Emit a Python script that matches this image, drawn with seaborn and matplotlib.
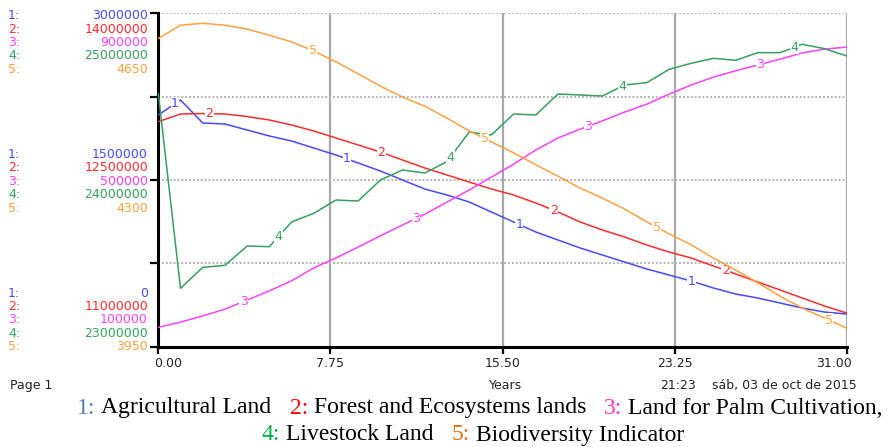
import numpy as np
import pandas as pd
import seaborn as sns
import matplotlib.pyplot as plt
from matplotlib.transforms import ScaledTranslation

sns.set_theme(style="white")
plt.rcParams['font.family'] = ['DejaVu Sans']

# Simulation output (one value per year)
years = list(range(32))
agri_land = [2085000, 2220000, 2013000, 2004000, 1950000, 1896000, 1851000, 1788000,
             1725000, 1653000, 1581000, 1500000, 1419000, 1365000, 1302000, 1212000,
             1122000, 1032000, 960000, 888000, 825000, 762000, 699000, 645000,
             591000, 528000, 474000, 438000, 393000, 348000, 312000, 294000]
forest_land = [13025000, 13094000, 13098000, 13094000, 13071000, 13040000, 12995000, 12941000,
               12878000, 12815000, 12752000, 12680000, 12608000, 12545000, 12482000, 12419000,
               12365000, 12293000, 12212000, 12122000, 12050000, 11987000, 11915000, 11852000,
               11798000, 11726000, 11654000, 11582000, 11510000, 11438000, 11366000, 11303000]
palm_land = [146500, 159000, 174000, 190000, 212000, 234000, 258000, 289000,
             313000, 339000, 366000, 392000, 418000, 447000, 476000, 507000,
             538000, 572000, 601000, 622000, 642000, 663000, 682000, 706000,
             728000, 747000, 762000, 776000, 790000, 805000, 814000, 819000]
livestock_land = [24520000, 23350000, 23476000, 23488000, 23604000, 23600000, 23748000, 23800000,
                  23880000, 23874000, 24000000, 24060000, 24042000, 24110000, 24288000, 24270000,
                  24396000, 24390000, 24516000, 24510000, 24504000, 24570000, 24584000, 24664000,
                  24700000, 24730000, 24718000, 24764000, 24764000, 24814000, 24788000, 24744000]
biodiversity = [4597, 4625, 4629, 4625, 4617, 4604, 4590, 4571, 4548, 4523, 4497, 4474,
                4455, 4430, 4403, 4380, 4357, 4332, 4308, 4283, 4262, 4239, 4212, 4187,
                4164, 4136, 4111, 4084, 4056, 4031, 4010, 3989]

series_names = ["Agricultural Land", "Forest and Ecosystems lands",
                "Land for Palm Cultivation,", "Livestock Land", "Biodiversity Indicator"]
axis_low = [0, 11000000, 100000, 23000000, 3950]
axis_high = [3000000, 14000000, 900000, 25000000, 4650]
x_ticks = [0, 7.75, 15.5, 23.25, 31]
x_tick_labels = ["0.00", "7.75", "15.50", "23.25", "31.00"]

series = [agri_land, forest_land, palm_land, livestock_land, biodiversity]
line_colors = ['#4848ff', '#ff2b2b', '#ff40ff', '#35a060', '#ffa040']
caption_colors = ['#4f81bd', '#ff0000', '#ff33cc', '#00b050', '#e36c0a']

W, H = 896, 447
fig = plt.figure(figsize=(W / 100, H / 100), dpi=100)
ax = fig.add_axes([158.3 / W, 1 - 346.7 / H, (846.7 - 158.3) / W, (346.7 - 13.3) / H])
ax.set_ylim(0, 1)
ax.set_yticks([0, 0.25, 0.5, 0.75, 1], [])
ax.set_xticks(x_ticks, x_tick_labels)

# grid: solid vertical, dotted horizontal
for x in x_ticks[1:]:
    ax.axvline(x, color='#a8a8a8', lw=1.6, zorder=0)
for y in [0.25, 0.5, 0.75, 1.0]:
    ax.axhline(y, color='#b4b4b4', lw=1.4, ls=(0, (1, 1)), zorder=0)

for loc, sp in ax.spines.items():
    if loc in ['left', 'bottom']:
        sp.set_color('black')
        sp.set_linewidth(2.2)
    else:
        sp.set_visible(False)
ax.tick_params(axis='y', direction='out', length=6, width=1.6, color='black', left=True)
ax.tick_params(axis='x', direction='out', length=4.8, width=1.6, color='black',
               bottom=True, pad=2.5, labelsize=9, labelcolor='#222222')
tl = ax.get_xticklabels()
tl[0].set_horizontalalignment('left')
tl[0].set_transform(tl[0].get_transform() + ScaledTranslation(-4 / 100, 0, fig.dpi_scale_trans))
tl[-1].set_horizontalalignment('right')
tl[-1].set_transform(tl[-1].get_transform() + ScaledTranslation(5 / 100, 0, fig.dpi_scale_trans))

# one hidden y scale per series
label_start = [0.75, 2.3, 3.85, 5.4, 6.95]
for i, vals in enumerate(series):
    tw = ax.twinx()
    df = pd.DataFrame({'Years': years, 'value': vals})
    sns.lineplot(data=df, x='Years', y='value', ax=tw, color=line_colors[i], lw=1.1)
    tw.set_ylim(axis_low[i], axis_high[i])
    tw.axis('off')
    for k in range(4):
        t = label_start[i] + 7.75 * k
        v = np.interp(t, years, vals)
        tw.text(t, v, str(i + 1), color=line_colors[i], fontsize=9, ha='center',
                va='center', bbox=dict(fc='white', ec='none', pad=0.3), zorder=5)
ax.set_xlim(0, 31)
ax.set_xlabel('')

# scale labels on the left
row = 13.4
for b, (base_y, first) in enumerate([(15.0, 0), (180.7, -2), (346.0, -4)]):
    for i in range(5):
        yb = base_y + row * (i + first) + 4.2
        if b == 0:
            v = axis_high[i]
        elif b == 1:
            v = (axis_low[i] + axis_high[i]) // 2
        else:
            v = axis_low[i]
        fig.text(8 / W, 1 - yb / H, f"{i + 1}:", color=line_colors[i], fontsize=9,
                 ha='left', va='baseline')
        fig.text(148 / W, 1 - yb / H, str(v), color=line_colors[i], fontsize=9,
                 ha='right', va='baseline')

fig.text(10 / W, 1 - 389 / H, "Page 1", fontsize=9, color='#222222', va='baseline')
fig.text(506 / W, 1 - 389 / H, "Years", fontsize=9, color='#222222', ha='center', va='baseline')
fig.text(660 / W, 1 - 389 / H, "21:23", fontsize=9, color='#222222', va='baseline')
fig.text(712 / W, 1 - 389 / H, "sáb, 03 de oct de 2015", fontsize=9, color='#222222', va='baseline')

# caption lines with coloured numbers
renderer = fig.canvas.get_renderer()


def caption_line(idx, baseline_y, center_x):
    pieces = []
    for n, i in enumerate(idx):
        pieces.append((f"{i + 1}:", caption_colors[i], 6))
        pieces.append((series_names[i], 'black', 18 if n < len(idx) - 1 else 0))
    texts = []
    total = 0
    for s, c, gap in pieces:
        t = fig.text(0, 1 - baseline_y / H, s, color=c, fontsize=17,
                     family='Liberation Serif', va='baseline', ha='left')
        w = t.get_window_extent(renderer=renderer).width
        texts.append((t, w, gap))
        total += w + gap
    x = center_x - total / 2
    for t, w, gap in texts:
        t.set_x(x / W)
        x += w + gap


caption_line([0, 1, 2], 413.5, 480)
caption_line([3, 4], 440.5, 473)

fig.savefig('out.png', dpi=100)
